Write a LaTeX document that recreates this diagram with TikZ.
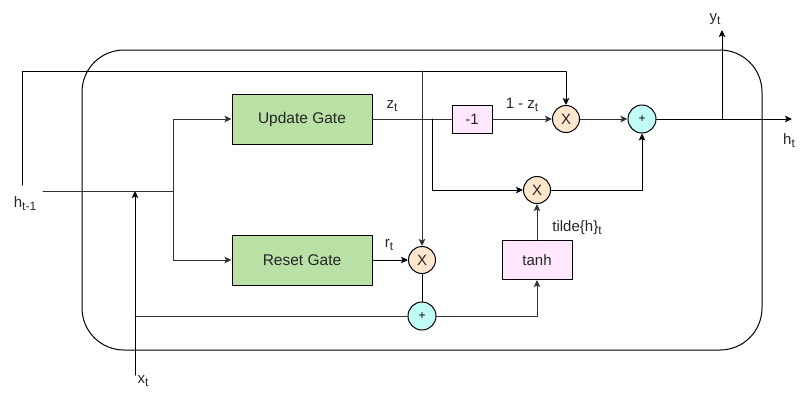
\documentclass[tikz,border=0pt]{standalone}
\usepackage{fontspec}
\setmainfont{Liberation Sans}
\usetikzlibrary{arrows.meta}

\definecolor{gatefill}{HTML}{B9E0A5}
\definecolor{opfill}{HTML}{FFE8FF}
\definecolor{mulfill}{HTML}{FFE6CC}
\definecolor{addfill}{HTML}{C2FCF6}
\definecolor{wirecol}{HTML}{333333}

% subscript as drawn in the picture
\newcommand{\lsub}[1]{\raisebox{-0.4ex}{\fontsize{12}{12}\selectfont #1}}

\begin{document}
\begin{tikzpicture}[x=1pt,y=-1pt,line cap=round,line join=round,line width=1pt,
  gate/.style={draw,fill=gatefill,minimum width=140pt,minimum height=50pt,
    text=black!85,font=\fontsize{15.5}{18}\selectfont},
  opbox/.style={draw,fill=opfill,text=black!85,font=\fontsize{15}{18}\selectfont},
  mul/.style={circle,draw,fill=mulfill,minimum size=27pt,inner sep=0pt,
    text=black!85,font=\fontsize{15}{16}\selectfont},
  add/.style={circle,draw,fill=addfill,minimum size=28pt,inner sep=0pt,
    font=\fontsize{12}{12}\selectfont},
  lbl/.style={text=black!85,inner sep=0pt,font=\fontsize{15}{17}\selectfont},
  arr/.style={-{Stealth[length=7pt,width=6.5pt,inset=1.5pt]}}]
\useasboundingbox (0,0) rectangle (809,400);

% --- cell outline ---
\draw[rounded corners=42pt] (82,50) rectangle (762,350);

% --- gates and operations ---
\node[gate]  (upd)  at (302,119) {Update Gate};
\node[gate]  (rst)  at (302,260) {Reset Gate};
\node[opbox,minimum width=40pt,minimum height=28pt] (neg) at (472,119) {-1};
\node[opbox,minimum width=70pt,minimum height=39pt] (tnh) at (537,260) {tanh};
\node[mul] (mulA) at (566,119) {X};
\node[mul] (mulB) at (537,190) {X};
\node[mul] (mulR) at (422,260) {X};
\node[add] (addA) at (642,119) {+};
\node[add] (addR) at (422,316) {+};

% --- inputs and outputs ---
\coordinate (hin)  at (43,191);
\coordinate (hj)   at (173,191);
\coordinate (htop) at (22,185);
\coordinate (hup)  at (22,71);
\coordinate (xin)  at (135,375);
\coordinate (zj)   at (432,119);
\coordinate (hout) at (792,119);
\coordinate (yout) at (722,30);

% h_{t-1} into both gates
\draw[wirecol] (hin) -- (hj);
\draw[wirecol,arr] (hj) |- (upd);
\draw[wirecol,arr] (hj) |- (rst);

% h_{t-1} carried over the top
\draw[arr] (htop) -- (hup) -| (mulA);
\draw[wirecol,arr] (mulR |- hup) -- (mulR);

% x_t
\draw[arr] (xin) -- (xin |- hin);
\draw[wirecol] (xin |- addR) -- (addR);

% update path
\draw[wirecol] (upd) -- (neg);
\draw[wirecol,arr] (neg) -- (mulA);
\draw[arr] (zj) |- (mulB);
\draw[wirecol,arr] (mulA) -- (addA);
\draw[arr] (mulB) -| (addA);
\draw[arr] (addA) -- (hout);
\draw[arr] (yout |- addA) -- (yout);

% reset path
\draw[arr] (rst) -- (mulR);
\draw (mulR) -- (addR);
\draw[wirecol,arr] (addR) -| (tnh);
\draw[wirecol,arr] (tnh) -- (mulB);

% labels
\node[lbl] (lh)  at (25,204)  {h\lsub{t-1}};
\node[lbl] (lx)  at (143,381) {x\lsub{t}};
\node[lbl] (ly)  at (715,19)  {y\lsub{t}};
\node[lbl] (lho) at (789,141) {h\lsub{t}};
\node[lbl] (lz)  at (392,106) {z\lsub{t}};
\node[lbl] (lnz) at (522,105) {1 - z\lsub{t}};
\node[lbl] (lr)  at (389,245) {r\lsub{t}};
\node[lbl] (lth) at (577,228) {tilde\{h\}\lsub{t}};
\end{tikzpicture}
\end{document}
